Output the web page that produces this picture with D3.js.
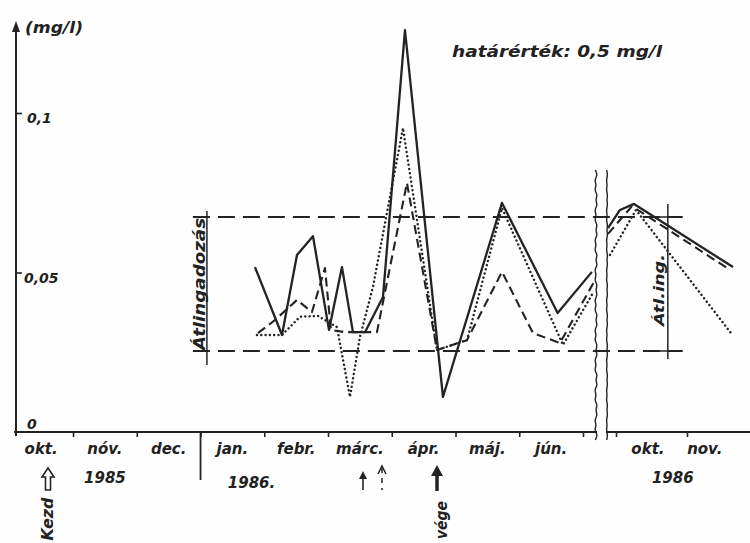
<!DOCTYPE html>
<html><head><meta charset="utf-8">
<script src="https://cdn.jsdelivr.net/npm/d3@7/dist/d3.min.js"></script>
<style>
html,body{margin:0;padding:0;background:#fff;}
svg text{font-family:"DejaVu Sans",sans-serif;font-style:italic;font-weight:bold;fill:#222;}
</style></head>
<body><svg id="c" width="750" height="543"></svg>
<script>
// ---- data (month index: 0 = start of Oct 1985, 12 = start of Oct 1986) ----
const months = ["okt.","nóv.","dec.","jan.","febr.","márc.","ápr.","máj.","jún.","okt.","nov."];
const monthPos = [0.5,1.5,2.5,3.5,4.5,5.5,6.5,7.5,8.5,12.45,13.25];
const years = ["1985","1986.","1986"];
const yearPos = [1.5,3.8,12.8];
const monthTicksLeft = [1,2,3,4,5,6,7,8,9];
const monthTicksRight = [12,13];
const yTickValues = [0,0.05,0.1];
const yTickLabels = ["0","0,05","0,1"];
const upperBand = 0.0674, lowerBand = 0.0254;

const solidLeft = [[3.854,0.0517],[4.278,0.0304],[4.513,0.0555],[4.764,0.0614],[5.015,0.0320],[5.219,0.0517],[5.391,0.0313],[5.580,0.0313],[5.862,0.0423],[6.207,0.1260],[6.803,0.0110],[7.729,0.0718],[8.602,0.0373],[9.140,0.0502]];
const dashedLeft = [[3.901,0.0310],[4.168,0.0351],[4.513,0.0414],[4.748,0.0376],[4.952,0.0514],[5.046,0.0320],[5.265,0.0313],[5.768,0.0313],[6.238,0.0781],[6.709,0.0257],[7.180,0.0288],[7.729,0.0502],[8.215,0.0310],[8.638,0.0279],[9.172,0.0470]];
const dottedLeft = [[3.885,0.0304],[4.278,0.0304],[4.560,0.0361],[4.842,0.0364],[5.140,0.0329],[5.344,0.0110],[5.501,0.0298],[5.705,0.0455],[6.176,0.0953],[6.709,0.0257],[7.180,0.0288],[7.729,0.0702],[8.686,0.0273],[9.156,0.0436]];
const solidRight = [[11.887,0.0639],[12.056,0.0696],[12.254,0.0715],[13.648,0.0517]];
const dashedRight = [[11.887,0.0621],[12.225,0.0708],[13.606,0.0508]];
const dottedRight = [[11.915,0.0555],[12.282,0.0696],[13.620,0.0310]];

// ---- scales ----
const xL = d3.scaleLinear().domain([0,9]).range([9.3,583]);
const xR = d3.scaleLinear().domain([12,13]).range([616,687]);
const xm = m => m < 10.5 ? xL(m) : xR(m);
const y = d3.scaleLinear().domain([0,0.1]).range([432,113]);
const ink = "#232323";

const svg = d3.select("#c");
svg.append("rect").attr("width",750).attr("height",543).attr("fill","#fefefe");
const fit = (t,len)=>t.attr("textLength",len).attr("lengthAdjust","spacingAndGlyphs");

// y axis line with arrow
const y0 = y(0), xAxisX = 16;
svg.append("line").attr("x1",xAxisX).attr("x2",xAxisX).attr("y1",y0+4).attr("y2",28)
  .attr("stroke",ink).attr("stroke-width",2);
svg.append("path").attr("d",`M${xAxisX},21 L${xAxisX-4},32 L${xAxisX+4},32 Z`).attr("fill",ink);
const yAxis = d3.axisRight(y).tickValues([0.05,0.1]).tickSize(6).tickFormat("");
svg.append("g").attr("transform",`translate(${xAxisX},0)`).call(yAxis)
  .call(g=>g.select(".domain").remove())
  .call(g=>g.selectAll("line").attr("stroke",ink).attr("stroke-width",1.6));
svg.selectAll("text.ylab").data(yTickValues).enter().append("text").attr("class","ylab")
  .attr("x",(d,i)=> i===1?24:27).attr("y",d=> d===0? y(d)-3 : y(d)+10)
  .attr("font-size",14).text((d,i)=>yTickLabels[i]);
fit(svg.append("text").attr("x",25).attr("y",33).attr("font-size",15).text("(mg/l)"),58);

// x axis lines
svg.append("line").attr("x1",xAxisX-2).attr("x2",597).attr("y1",y0).attr("y2",y0).attr("stroke",ink).attr("stroke-width",2);
svg.append("line").attr("x1",606).attr("x2",750).attr("y1",y0).attr("y2",y0).attr("stroke",ink).attr("stroke-width",2);
const styleAx = g=>{g.select(".domain").remove();g.selectAll("line").attr("stroke",ink).attr("stroke-width",1.6);};
svg.append("g").attr("transform",`translate(0,${y0})`)
  .call(d3.axisBottom(xL).tickValues(monthTicksLeft).tickSize(5).tickFormat("")).call(styleAx);
svg.append("g").attr("transform",`translate(0,${y0})`)
  .call(d3.axisBottom(xR).tickValues(monthTicksRight).tickSize(5).tickFormat("")).call(styleAx);
// 1985/1986 divider
svg.append("line").attr("x1",xL(3)).attr("x2",xL(3)).attr("y1",y0).attr("y2",480).attr("stroke",ink).attr("stroke-width",1.8);

svg.selectAll("text.mon").data(months).enter().append("text").attr("class","mon")
  .attr("x",(d,i)=>xm(monthPos[i])).attr("y",454).attr("text-anchor","middle").attr("font-size",15).text(d=>d);
svg.selectAll("text.yr").data(years).enter().append("text").attr("class","yr")
  .attr("x",(d,i)=>xm(yearPos[i])).attr("y",(d,i)=>i===1?488:483).attr("text-anchor","middle").attr("font-size",15).text(d=>d);

// axis break (wavy lines)
function wavy(x0,amp){
  const pts=[];for(let yy=170,i=0;yy<=444;yy+=5,i++){pts.push([x0+(i%2?amp:-amp)*(i%3?1:0.4),yy]);}
  return d3.line().curve(d3.curveBasis)(pts);
}
svg.append("rect").attr("x",597).attr("y",165).attr("width",9).attr("height",285).attr("fill","#fefefe");
svg.append("path").attr("d",wavy(596,1.8)).attr("fill","none").attr("stroke",ink).attr("stroke-width",1.4);
svg.append("path").attr("d",wavy(607,0.8)).attr("fill","none").attr("stroke",ink).attr("stroke-width",1.4);

// band lines (Átlingadozás)
const bandX1 = xL(2.88), bandX2 = xR(12.94);
[upperBand,lowerBand].forEach(v=>{
  svg.append("line").attr("x1",bandX1).attr("x2",bandX2).attr("y1",y(v)).attr("y2",y(v))
    .attr("stroke",ink).attr("stroke-width",2).attr("stroke-dasharray","17,8");
});
const vL = xL(3.1), vR = xR(12.73);
svg.append("line").attr("x1",vL).attr("x2",vL).attr("y1",y(upperBand)-6).attr("y2",y(lowerBand)+14).attr("stroke",ink).attr("stroke-width",1.5);
svg.append("line").attr("x1",vR).attr("x2",vR).attr("y1",y(upperBand)-13).attr("y2",y(lowerBand)+8).attr("stroke",ink).attr("stroke-width",1.5);
svg.append("line").attr("x1",vR-12).attr("x2",vR+12).attr("y1",y(upperBand)).attr("y2",y(upperBand)).attr("stroke",ink).attr("stroke-width",1.5);
svg.append("line").attr("x1",vR-12).attr("x2",vR+12).attr("y1",y(lowerBand)).attr("y2",y(lowerBand)).attr("stroke",ink).attr("stroke-width",1.5);
fit(svg.append("text").attr("transform",`translate(205,${(y(upperBand)+y(lowerBand))/2}) rotate(-90)`)
  .attr("text-anchor","middle").attr("font-size",15).text("Átlingadozás"),132);
fit(svg.append("text").attr("transform",`translate(664,290) rotate(-90)`)
  .attr("text-anchor","middle").attr("font-size",14).text("Átl.ing."),72);

// series
const line = d3.line().x(d=>xm(d[0])).y(d=>y(d[1]));
function draw(data,style){
  const p = svg.append("path").attr("d",line(data)).attr("fill","none").attr("stroke",ink)
    .attr("stroke-linejoin","round");
  if(style==="solid") p.attr("stroke-width",2.3);
  if(style==="dashed") p.attr("stroke-width",2.1).attr("stroke-dasharray","9,5");
  if(style==="dotted") p.attr("stroke-width",2.4).attr("stroke-dasharray","0.1,4.2").attr("stroke-linecap","round");
}
draw(dottedLeft,"dotted"); draw(dottedRight,"dotted");
draw(dashedLeft,"dashed"); draw(dashedRight,"dashed");
draw(solidLeft,"solid"); draw(solidRight,"solid");

// title
fit(svg.append("text").attr("x",452).attr("y",57).attr("font-size",16).text("határérték: 0,5 mg/l"),210);

// markers below axis
svg.append("path").attr("d","M48,468 L42,477 L45.5,477 L45.5,490 L50.5,490 L50.5,477 L54,477 Z")
  .attr("fill","#fff").attr("stroke",ink).attr("stroke-width",1.6);
fit(svg.append("text").attr("transform","translate(53,519) rotate(-90)").attr("text-anchor","middle")
  .attr("font-size",15).text("Kezd"),43);
svg.append("line").attr("x1",363).attr("x2",363).attr("y1",490).attr("y2",474).attr("stroke",ink).attr("stroke-width",1.6);
svg.append("path").attr("d","M363,471 L359,479 L367,479 Z").attr("fill",ink);
svg.append("path").attr("d","M378,474 L382,466 L386,474").attr("fill","none").attr("stroke",ink).attr("stroke-width",1.5);
svg.append("line").attr("x1",382).attr("x2",382).attr("y1",468).attr("y2",490).attr("stroke",ink).attr("stroke-width",1.5).attr("stroke-dasharray","5,5");
svg.append("path").attr("d","M437,465 L431,476 L443,476 Z").attr("fill",ink);
svg.append("line").attr("x1",437).attr("x2",437).attr("y1",474).attr("y2",491).attr("stroke",ink).attr("stroke-width",3.5);
fit(svg.append("text").attr("transform","translate(447,520) rotate(-90)").attr("text-anchor","middle")
  .attr("font-size",15).text("vége"),38);
</script></body></html>
